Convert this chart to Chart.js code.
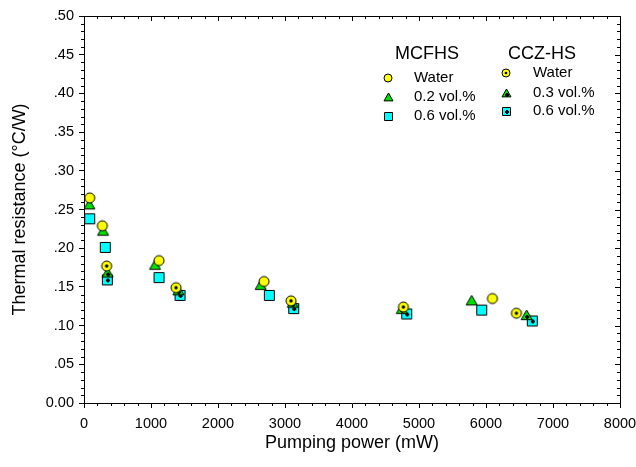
<!DOCTYPE html>
<html lang="en">
<head>
<meta charset="UTF-8" />
<title>Thermal resistance vs pumping power</title>
<script src="https://cdn.jsdelivr.net/npm/chart.js"></script>
<style>
  html, body { margin: 0; padding: 0; background: #fff; }
</style>
</head>
<body>
<canvas id="chart" width="636" height="467"></canvas>
<script>
// MCFHS series (pumping power in mW, thermal resistance in C/W)
const mcWaterX = [85, 274, 1120, 2687, 6096];
const mcWaterY = [0.265, 0.229, 0.184, 0.157, 0.135];
const mc02X = [80, 284, 1060, 2637, 5786];
const mc02Y = [0.256, 0.222, 0.178, 0.152, 0.132];
const mc06X = [85, 318, 1120, 2766, 5936];
const mc06Y = [0.238, 0.201, 0.162, 0.139, 0.120];

// CCZ-HS series
const czWaterX = [338, 1374, 3090, 4767, 6454];
const czWaterY = [0.177, 0.149, 0.132, 0.124, 0.116];
const cz03X = [353, 1408, 3115, 4743, 6607];
const cz03Y = [0.168, 0.145, 0.129, 0.121, 0.113];
const cz06X = [348, 1433, 3130, 4817, 6691];
const cz06Y = [0.159, 0.139, 0.122, 0.115, 0.106];

const groupNames = ['MCFHS', 'CCZ-HS'];
const mcLabels = ['Water', '0.2 vol.%', '0.6 vol.%'];
const czLabels = ['Water', '0.3 vol.%', '0.6 vol.%'];

const FONT = 'Arial, "Liberation Sans", sans-serif';
const YELLOW = '#ffff00';
const GREEN = '#00e000';
const CYAN = '#00ffff';

function pts(xs, ys) {
  return xs.map((x, i) => ({ x: x, y: ys[i] }));
}

// small canvas used as a point style
function makeMarker(shape, size, fill, inner) {
  const c = document.createElement('canvas');
  c.width = c.height = size + 4;
  const g = c.getContext('2d');
  const m = c.width / 2, r = size / 2;
  g.fillStyle = fill;
  g.strokeStyle = '#000';
  g.lineWidth = 1;
  g.beginPath();
  if (shape === 'circle') {
    g.arc(m, m, r, 0, Math.PI * 2);
  } else if (shape === 'rect') {
    g.rect(m - r + 0.5, m - r + 0.5, size - 1, size - 1);
  } else {
    g.moveTo(m, m - r);
    g.lineTo(m + r, m + r * 0.75);
    g.lineTo(m - r, m + r * 0.75);
    g.closePath();
  }
  g.fill();
  g.stroke();
  g.fillStyle = '#000';
  if (inner === 'dot') {
    g.beginPath();
    g.arc(m, m, size * 0.17, 0, Math.PI * 2);
    g.fill();
  } else if (inner === 'plus') {
    const a = Math.max(2, Math.round(size * 0.22));
    const cy = shape === 'triangle' ? Math.round(m + 1) : Math.round(m);
    const cx = Math.round(m);
    g.fillRect(cx - a, cy - 1, a * 2, 2);
    g.fillRect(cx - 1, cy - a, 2, a * 2);
  }
  return c;
}

const markerDefs = [
  ['circle', 10, YELLOW, null],
  ['triangle', 11, GREEN, null],
  ['rect', 11, CYAN, null],
  ['circle', 10, YELLOW, 'dot'],
  ['triangle', 11, GREEN, 'plus'],
  ['rect', 11, CYAN, 'plus']
];
const plotMarkers = markerDefs.map(d => makeMarker(d[0], d[1], d[2], d[3]));
const legendMarkers = markerDefs.map(d => makeMarker(d[0], d[1] - 2, d[2], d[3]));

function series(label, data, idx) {
  return {
    label: label,
    data: data,
    showLine: false,
    pointStyle: plotMarkers[idx],
    pointRadius: 6,
    pointHoverRadius: 6
  };
}

// frame, inward ticks on top/right and minor ticks
const framePlugin = {
  id: 'frame',
  afterDraw(chart) {
    const { ctx, chartArea: a, scales: { x, y } } = chart;
    ctx.save();
    ctx.strokeStyle = '#000';
    ctx.lineWidth = 1;
    ctx.beginPath();
    ctx.moveTo(a.left + 0.5, a.top + 0.5);
    ctx.lineTo(a.right + 0.5, a.top + 0.5);
    ctx.lineTo(a.right + 0.5, a.bottom + 0.5);
    ctx.stroke();
    ctx.beginPath();
    for (let v = 0; v <= 8000; v += 200) {
      const px = Math.round(x.getPixelForValue(v)) + 0.5;
      const len = v % 1000 === 0 ? 5 : 3;
      if (v % 1000 !== 0) {
        ctx.moveTo(px, a.bottom);
        ctx.lineTo(px, a.bottom + 3);
      }
      ctx.moveTo(px, a.top);
      ctx.lineTo(px, a.top + len);
    }
    for (let k = 0; k <= 50; k++) {
      const py = Math.round(y.getPixelForValue(k / 100)) + 0.5;
      const len = k % 5 === 0 ? 5 : 3;
      if (k % 5 !== 0) {
        ctx.moveTo(a.left, py);
        ctx.lineTo(a.left - 3, py);
      }
      ctx.moveTo(a.right, py);
      ctx.lineTo(a.right - len, py);
    }
    ctx.stroke();
    ctx.restore();
  }
};

// two-column legend drawn inside the plot
const legendPlugin = {
  id: 'groupLegend',
  afterDraw(chart) {
    const ctx = chart.ctx;
    ctx.save();
    ctx.fillStyle = '#000';
    ctx.textBaseline = 'middle';
    ctx.textAlign = 'left';
    ctx.font = '18px ' + FONT;
    ctx.fillText(groupNames[0], 395, 54);
    ctx.fillText(groupNames[1], 508, 54);
    ctx.font = '15px ' + FONT;
    const mcRows = [78, 97, 116];
    const czRows = [73, 93, 111];
    mcLabels.forEach((t, i) => {
      const mk = legendMarkers[i];
      ctx.drawImage(mk, Math.round(388 - mk.width / 2), Math.round(mcRows[i] - mk.height / 2));
      ctx.fillText(t, 414, mcRows[i]);
    });
    czLabels.forEach((t, i) => {
      const mk = legendMarkers[i + 3];
      ctx.drawImage(mk, Math.round(506 - mk.width / 2), Math.round(czRows[i] - mk.height / 2));
      ctx.fillText(t, 533, czRows[i]);
    });
    ctx.restore();
  }
};

new Chart(document.getElementById('chart'), {
  type: 'scatter',
  data: {
    datasets: [
      series('MCFHS Water', pts(mcWaterX, mcWaterY), 0),
      series('MCFHS 0.2 vol.%', pts(mc02X, mc02Y), 1),
      series('MCFHS 0.6 vol.%', pts(mc06X, mc06Y), 2),
      series('CCZ-HS Water', pts(czWaterX, czWaterY), 3),
      series('CCZ-HS 0.3 vol.%', pts(cz03X, cz03Y), 4),
      series('CCZ-HS 0.6 vol.%', pts(cz06X, cz06Y), 5)
    ]
  },
  options: {
    responsive: false,
    animation: false,
    layout: { padding: { top: 16, right: 16, left: 0, bottom: 0 } },
    plugins: {
      legend: { display: false },
      tooltip: { enabled: false }
    },
    scales: {
      x: {
        type: 'linear',
        min: 0,
        max: 8000,
        afterFit(scale) {
          scale.height = 64;
          scale.paddingLeft = 0;
          scale.paddingRight = 0;
        },
        border: { display: true, color: '#000', width: 1 },
        grid: { display: true, drawOnChartArea: false, drawTicks: true, tickLength: 5, color: '#000', tickColor: '#000' },
        ticks: {
          stepSize: 1000,
          color: '#000',
          padding: 7,
          maxRotation: 0,
          font: { family: FONT, size: 14.5 },
          callback: v => String(v)
        },
        title: { display: true, text: 'Pumping power (mW)', color: '#000', padding: { top: 0, bottom: 13 }, font: { family: FONT, size: 18 } }
      },
      y: {
        type: 'linear',
        min: 0,
        max: 0.5,
        afterFit(scale) {
          scale.width = 84;
          scale.paddingTop = 0;
          scale.paddingBottom = 0;
        },
        border: { display: true, color: '#000', width: 1 },
        grid: { display: true, drawOnChartArea: false, drawTicks: true, tickLength: 5, color: '#000', tickColor: '#000' },
        ticks: {
          stepSize: 0.05,
          color: '#000',
          padding: 5,
          font: { family: FONT, size: 14.5 },
          callback: v => (Math.abs(v) < 1e-9 ? '0.00' : v.toFixed(2).replace(/^0/, ''))
        },
        title: { display: true, text: 'Thermal resistance (\u00B0C/W)', color: '#000', padding: { top: 9, bottom: 0 }, font: { family: FONT, size: 18 } }
      }
    }
  },
  plugins: [framePlugin, legendPlugin]
});
</script>
</body>
</html>
